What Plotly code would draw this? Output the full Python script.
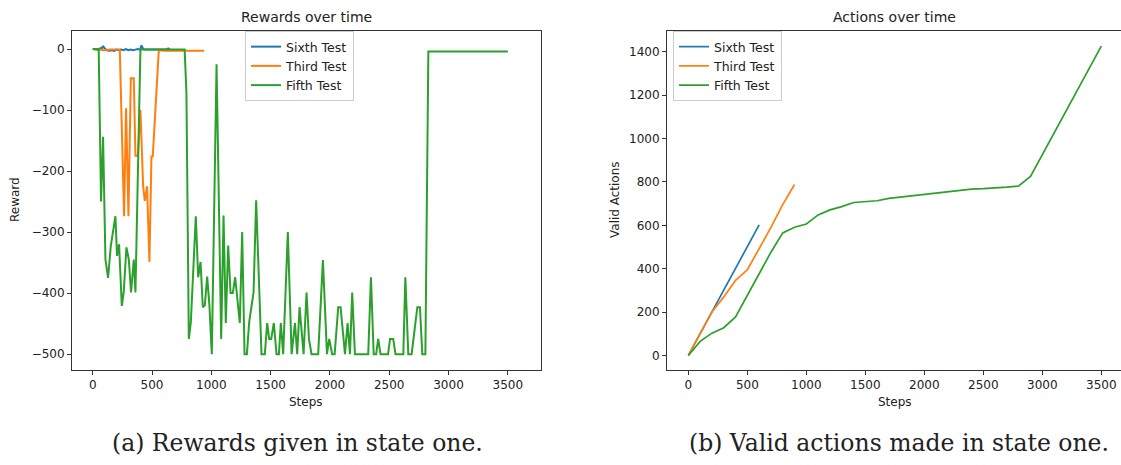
import plotly.graph_objects as go

# ---------------- data: Rewards over time (left) ----------------
sixth_reward_steps = [0, 20, 40, 60, 80, 87, 100, 120, 140, 160, 180, 200, 220, 240, 260, 280, 300,
                      320, 340, 360, 380, 400, 411, 425, 440, 460, 480, 500, 520, 540, 560, 580, 600, 620, 636, 650]
sixth_reward_vals = [0, 0, -1, 1, 2, 5, 1, -2, -3, -2, -3, -1, -2, -1, -2, 0, -2,
                     -1, -2, -1, 0, -1, 6, 0, -1, -1, -1, -1, -1, -1, -1, -1, -1, -1, 1, -1]

third_reward_steps = [0, 50, 100, 150, 200, 228, 264, 281, 301, 321, 346, 360, 380, 402, 425, 439,
                      458, 478, 495, 506, 557, 600, 700, 800, 940]
third_reward_vals = [0, -1, -2, -1, -1, -1, -274, -97, -274, -48, -48, -175, -175, -100, -225, -249,
                     -225, -349, -176, -176, -2, -3, -3, -3, -3]

fifth_reward_steps = [0, 50, 70, 87, 107, 129, 152, 191, 205, 222, 245, 261, 284, 304, 323, 346, 360,
                      402, 775, 790, 810, 827, 869, 889, 909, 928, 945, 965, 984, 1004, 1044, 1083,
                      1103, 1122, 1142, 1162, 1181, 1201, 1240, 1260, 1280, 1300, 1319, 1356, 1378,
                      1423, 1451, 1471, 1488, 1505, 1527, 1550, 1570, 1586, 1606, 1645, 1677, 1705,
                      1724, 1744, 1778, 1803, 1823, 1845, 1901, 1941, 1975, 1994, 2019, 2040, 2070,
                      2090, 2127, 2149, 2169, 2188, 2211, 2323, 2346, 2369, 2390, 2407, 2427, 2490,
                      2507, 2534, 2553, 2619, 2636, 2661, 2689, 2737, 2759, 2779, 2805, 2830, 3500]
fifth_reward_vals = [0, 0, -250, -144, -345, -375, -323, -274, -339, -320, -421, -399, -325, -345, -399, -345, -399,
                     -1, -1, -72, -475, -448, -274, -374, -349, -423, -420, -373, -421, -500, -25, -475,
                     -273, -449, -322, -400, -400, -374, -449, -300, -500, -500, -448, -399, -248,
                     -500, -500, -449, -475, -475, -449, -500, -500, -449, -500, -300, -500, -449,
                     -500, -423, -500, -399, -475, -500, -500, -346, -500, -475, -500, -500, -423,
                     -423, -500, -449, -500, -399, -500, -500, -374, -500, -500, -475, -500, -500,
                     -475, -475, -500, -500, -374, -500, -500, -423, -423, -500, -500, -4, -4]

# ---------------- data: Actions over time (right) ----------------
sixth_action_steps = [0, 100, 200, 300, 400, 500, 600]
sixth_action_vals = [0, 100, 202, 300, 400, 500, 602]

third_action_steps = [0, 100, 200, 300, 400, 500, 600, 700, 800, 900]
third_action_vals = [0, 100, 201, 270, 346, 395, 490, 590, 695, 788]

fifth_action_steps = [0, 100, 200, 300, 400, 500, 600, 700, 800, 900, 1000, 1100, 1200, 1300, 1400,
                      1500, 1600, 1700, 1800, 1900, 2000, 2100, 2200, 2300, 2400, 2500, 2600, 2700,
                      2800, 2900, 3500]
fifth_action_vals = [0, 65, 103, 128, 178, 278, 377, 476, 565, 591, 606, 648, 671, 686, 705,
                     709, 713, 724, 730, 736, 745, 749, 755, 762, 767, 769, 771, 776,
                     781, 825, 1426]

series_names = ["Sixth Test", "Third Test", "Fifth Test"]
colors = ["#1f77b4", "#ff7f0e", "#2ca02c"]

W, H = 1121, 465
fig = go.Figure()

left = [(sixth_reward_steps, sixth_reward_vals), (third_reward_steps, third_reward_vals),
        (fifth_reward_steps, fifth_reward_vals)]
right = [(sixth_action_steps, sixth_action_vals), (third_action_steps, third_action_vals),
         (fifth_action_steps, fifth_action_vals)]

for (xs, ys), name, c in zip(left, series_names, colors):
    fig.add_trace(go.Scatter(x=xs, y=ys, mode="lines", name=name, line=dict(color=c, width=2),
                             xaxis="x", yaxis="y", legend="legend"))
for (xs, ys), name, c in zip(right, series_names, colors):
    fig.add_trace(go.Scatter(x=xs, y=ys, mode="lines", name=name, line=dict(color=c, width=1.7),
                             xaxis="x2", yaxis="y2", legend="legend2"))

FONT = "DejaVu Sans"
axis_common = dict(showgrid=False, zeroline=False, showline=True, linecolor="#333", linewidth=1,
                   ticks="outside", ticklen=4, tickcolor="#333", tickfont=dict(family=FONT, size=12, color="#222"))

legend_common = dict(xanchor="left", yanchor="top", bgcolor="white", bordercolor="#cccccc", borderwidth=1,
                     font=dict(family=FONT, size=12.5, color="#222"), tracegroupgap=0)

fig.update_layout(
    width=W, height=H,
    margin=dict(l=0, r=0, t=0, b=0),
    paper_bgcolor="white", plot_bgcolor="white",
    font=dict(family=FONT, color="#222"),
    xaxis=dict(domain=[72 / W, 541 / W], range=[-175, 3780], tickvals=[0, 500, 1000, 1500, 2000, 2500, 3000, 3500],
               mirror=True, anchor="y", **axis_common),
    yaxis=dict(domain=[1 - 370 / H, 1 - 31 / H], range=[-526, 29.5], tickvals=[0, -100, -200, -300, -400, -500],
               mirror=True, anchor="x", **axis_common),
    xaxis2=dict(domain=[667 / W, 1.0], range=[-181, 3667], tickvals=[0, 500, 1000, 1500, 2000, 2500, 3000, 3500],
                mirror=True, anchor="y2", **axis_common),
    yaxis2=dict(domain=[1 - 370 / H, 1 - 30.7 / H], range=[-67, 1497],
                tickvals=[0, 200, 400, 600, 800, 1000, 1200, 1400], mirror=False, anchor="x2", **axis_common),
    legend=dict(x=245 / W, y=1 - 31 / H, **legend_common),
    legend2=dict(x=673 / W, y=1 - 31 / H, **legend_common),
)

def ann(text, x, y, size, family=FONT, angle=0):
    fig.add_annotation(text=text, x=x / W, y=1 - y / H, xref="paper", yref="paper",
                       xanchor="center", yanchor="middle", showarrow=False, textangle=angle,
                       font=dict(family=family, size=size, color="#222"))

ann("Rewards over time", 306, 17, 14)
ann("Actions over time", 894, 17, 14)
ann("Steps", 306, 402, 12)
ann("Steps", 895, 402, 12)
ann("Reward", 15, 200, 12, angle=-90)
ann("Valid Actions", 615, 200, 12, angle=-90)
ann("(a) Rewards given in state one.", 297, 443, 23.5, family="DejaVu Serif")
ann("(b) Valid actions made in state one.", 899, 443, 23.5, family="DejaVu Serif")

fig.write_html("out.html")
